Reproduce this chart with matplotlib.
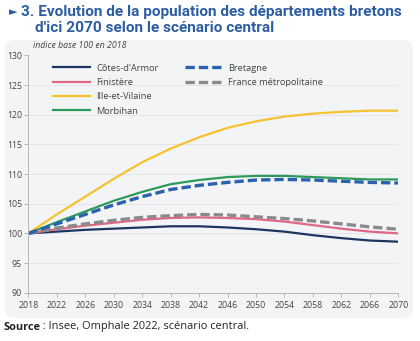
import matplotlib
matplotlib.use("Agg")
import matplotlib.pyplot as plt
from matplotlib.patches import FancyBboxPatch

years = [2018, 2022, 2026, 2030, 2034, 2038, 2042, 2046, 2050, 2054, 2058, 2062, 2066, 2070]

cotes_armor = [100, 100.3, 100.6, 100.8, 101.0, 101.2, 101.2, 101.0, 100.7, 100.3, 99.7, 99.2, 98.8, 98.6]
finistere = [100, 100.7, 101.3, 101.8, 102.3, 102.6, 102.7, 102.6, 102.4, 102.0, 101.4, 100.8, 100.3, 100.0]
ille_vilaine = [100, 103.2, 106.2, 109.2, 112.0, 114.3, 116.2, 117.8, 118.9, 119.7, 120.2, 120.5, 120.7, 120.7]
morbihan = [100, 101.9, 103.7, 105.5, 107.0, 108.3, 109.0, 109.5, 109.7, 109.7, 109.5, 109.3, 109.1, 109.1]
bretagne = [100, 101.6, 103.2, 104.8, 106.2, 107.4, 108.1, 108.6, 109.0, 109.1, 109.0, 108.8, 108.6, 108.5]
france = [100, 100.9, 101.6, 102.2, 102.7, 103.0, 103.2, 103.1, 102.8, 102.5, 102.1, 101.6, 101.1, 100.7]

y_ticks = [90, 95, 100, 105, 110, 115, 120, 125, 130]
x_ticks = list(range(2018, 2071, 4))

W, H = 420, 341
blue_title = "#2d5da1"
plt.rcParams['font.family'] = ['Open Sans', 'DejaVu Sans']

fig = plt.figure(figsize=(W / 100, H / 100), dpi=100)

# rounded grey panel behind the chart
panel = FancyBboxPatch((5 / W, (H - 318) / H), 408 / W, 278 / H,
                       boxstyle="round,pad=0,rounding_size=0.025",
                       transform=fig.transFigure, facecolor="#f3f4f6",
                       edgecolor="none", zorder=-5)
fig.patches.append(panel)

ax = fig.add_axes([28.3 / W, (H - 292.7) / H, 370 / W, 237.2 / H])
ax.patch.set_alpha(0)

dash = (0, (2.8, 1.2))
ax.plot(years, cotes_armor, color="#1d3561", lw=1.6, label="Côtes-d'Armor")
ax.plot(years, finistere, color="#e06884", lw=1.6, label="Finistère")
ax.plot(years, ille_vilaine, color="#f5c230", lw=1.6, label="Ille-et-Vilaine")
ax.plot(years, morbihan, color="#2e9a5a", lw=1.6, label="Morbihan")
ax.plot(years, france, color="#8a8a8a", lw=2.4, ls=dash, label="France métropolitaine")
ax.plot(years, bretagne, color="#2b62ad", lw=2.4, ls=dash, label="Bretagne")

ax.set_xlim(2018, 2070)
ax.set_ylim(90, 130)
ax.set_xticks(x_ticks)
ax.set_yticks(y_ticks)
ax.grid(axis="y", color="#e3e5e8", lw=0.7)
ax.set_axisbelow(True)
for side in ["top", "right"]:
    ax.spines[side].set_visible(False)
for side in ["left", "bottom"]:
    ax.spines[side].set_color("#b8b8b8")
    ax.spines[side].set_linewidth(0.7)
ax.tick_params(axis="both", colors="#b8b8b8", labelcolor="#444444",
               labelsize=6.3, length=3, width=0.7)
ax.tick_params(axis="x", pad=3)
ax.tick_params(axis="y", pad=1.5)

handles, labels = ax.get_legend_handles_labels()
lookup = dict(zip(labels, handles))
first = ["Côtes-d'Armor", "Finistère", "Ille-et-Vilaine", "Morbihan"]
second = ["Bretagne", "France métropolitaine"]
leg_kw = dict(loc="upper left", frameon=False, fontsize=6.7, handlelength=4.0,
              handletextpad=0.65, labelspacing=0.58, borderpad=0,
              borderaxespad=0, labelcolor="#444444")
leg1 = ax.legend([lookup[k] for k in first], first, bbox_to_anchor=(0.0668, 0.966), **leg_kw)
ax.add_artist(leg1)
ax.legend([lookup[k] for k in second], second, bbox_to_anchor=(0.4235, 0.966), **leg_kw)

fig.text(33 / W, 1 - 46 / H, "indice base 100 en 2018", fontsize=6.3,
         style="italic", color="#444444", va="center")

# title, shrunk so that the first line spans the panel width
title_fam = ['Roboto', 'DejaVu Sans']
fig.text(9 / W, 1 - 12 / H, "►", fontsize=8, color=blue_title,
         va="center", family=['DejaVu Sans'])
t1 = fig.text(21 / W, 1 - 12 / H, "3. Evolution de la population des départements bretons",
              fontsize=12, fontweight="bold", color=blue_title, va="center", family=title_fam)
t2 = fig.text(35 / W, 1 - 28 / H, "d'ici 2070 selon le scénario central",
              fontsize=12, fontweight="bold", color=blue_title, va="center", family=title_fam)
fig.canvas.draw()
scale = 382 / t1.get_window_extent().width
t1.set_fontsize(12 * scale)
t2.set_fontsize(12 * scale)

s1 = fig.text(3 / W, 1 - 327 / H, "Source", fontsize=7.9, fontweight="bold",
              color="#222222", va="center")
fig.canvas.draw()
bb = s1.get_window_extent()
fig.text(bb.x1 / W, 1 - 327 / H, " : Insee, Omphale 2022, scénario central.",
         fontsize=7.9, color="#222222", va="center")

fig.savefig("out.png", dpi=100)
